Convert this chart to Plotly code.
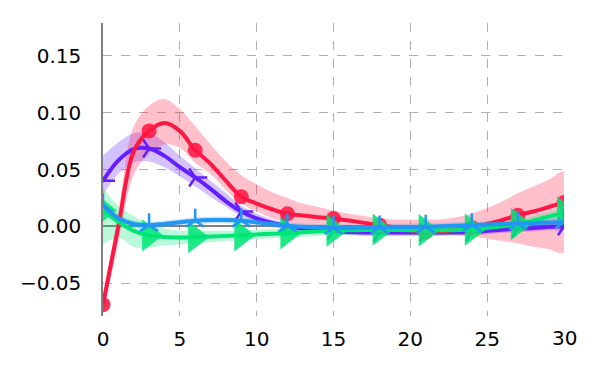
import plotly.graph_objects as go

# x positions (every integer step); markers drawn every 3rd point
x = list(range(31))

red_mean = [-0.069, 0.000, 0.066, 0.084, 0.091, 0.084, 0.067, 0.055, 0.040, 0.026,
            0.020, 0.015, 0.011, 0.0095, 0.008, 0.0068, 0.005, 0.003, 0.001, -0.001,
            -0.0035, -0.005, -0.0045, -0.003, -0.001, 0.002, 0.0055, 0.0097, 0.013, 0.017, 0.021]
red_upper = [-0.060, 0.012, 0.088, 0.106, 0.112, 0.103, 0.088, 0.072, 0.057, 0.045,
             0.037, 0.030, 0.025, 0.020, 0.017, 0.014, 0.011, 0.009, 0.007, 0.006,
             0.006, 0.006, 0.006, 0.008, 0.011, 0.016, 0.022, 0.029, 0.035, 0.041, 0.048]
red_lower = [-0.078, -0.014, 0.045, 0.064, 0.072, 0.069, 0.056, 0.046, 0.032, 0.020,
             0.013, 0.007, 0.003, 0.001, 0.000, -0.001, -0.001, -0.002, -0.004, -0.005,
             -0.006, -0.007, -0.007, -0.008, -0.009, -0.011, -0.013, -0.015, -0.018, -0.020, -0.023]

purple_mean = [0.040, 0.058, 0.068, 0.0685, 0.062, 0.052, 0.043, 0.033, 0.022, 0.013,
               0.007, 0.003, 0.000, -0.002, -0.003, -0.004, -0.005, -0.0055, -0.0055, -0.0055,
               -0.0055, -0.0055, -0.0055, -0.0052, -0.005, -0.004, -0.003, -0.002, -0.0015, -0.0005, 0.000]
purple_upper = [0.062, 0.074, 0.082, 0.082, 0.074, 0.062, 0.051, 0.040, 0.029, 0.018,
                0.011, 0.006, 0.003, 0.001, 0.000, -0.001, -0.002, -0.0025, -0.0025, -0.0025,
                -0.0025, -0.0025, -0.0025, -0.0022, -0.002, -0.001, 0.000, 0.001, 0.0015, 0.0025, 0.003]
purple_lower = [0.028, 0.046, 0.056, 0.057, 0.052, 0.044, 0.035, 0.026, 0.017, 0.009,
                0.003, 0.000, -0.003, -0.005, -0.006, -0.007, -0.008, -0.0085, -0.0085, -0.0085,
                -0.0085, -0.0085, -0.0085, -0.0082, -0.008, -0.007, -0.006, -0.005, -0.0045, -0.0035, -0.003]

blue_mean = [0.0185, 0.007, 0.002, 0.001, 0.002, 0.0035, 0.0048, 0.0055, 0.0055, 0.005,
             0.0035, 0.002, 0.0005, -0.0005, -0.001, -0.0015, -0.0015, -0.0012, -0.001, -0.0008,
             -0.0006, -0.0005, 0.000, 0.0005, 0.001, 0.0015, 0.002, 0.0025, 0.003, 0.0033, 0.0035]
blue_upper = [0.025, 0.011, 0.005, 0.004, 0.005, 0.0065, 0.008, 0.0085, 0.0085, 0.008,
              0.0065, 0.005, 0.0035, 0.0025, 0.002, 0.0015, 0.0015, 0.0018, 0.002, 0.0022,
              0.0024, 0.0025, 0.003, 0.0035, 0.004, 0.0045, 0.005, 0.0055, 0.006, 0.0063, 0.0065]
blue_lower = [0.012, 0.003, -0.001, -0.002, -0.001, 0.0005, 0.0018, 0.0025, 0.0025, 0.002,
              0.0005, -0.001, -0.0025, -0.0035, -0.004, -0.0045, -0.0045, -0.0042, -0.004, -0.0038,
              -0.0036, -0.0035, -0.003, -0.0025, -0.002, -0.0015, -0.001, -0.0005, 0.000, 0.0003, 0.0005]

green_mean = [0.014, 0.004, -0.004, -0.008, -0.0095, -0.0098, -0.0095, -0.009, -0.0085, -0.008,
              -0.0072, -0.0065, -0.006, -0.0052, -0.0045, -0.0038, -0.0035, -0.0033, -0.003, -0.0032,
              -0.0034, -0.0035, -0.0035, -0.0034, -0.003, -0.0015, 0.000, 0.002, 0.005, 0.0085, 0.012]
green_upper = [0.034, 0.018, 0.009, 0.002, -0.002, -0.004, -0.004, -0.004, -0.004, -0.004,
               -0.003, -0.0025, -0.002, -0.0012, -0.0005, 0.0002, 0.0005, 0.0007, 0.001, 0.0008,
               0.0006, 0.0005, 0.0005, 0.0006, 0.001, 0.0025, 0.004, 0.006, 0.009, 0.0125, 0.016]
green_lower = [-0.016, -0.010, -0.018, -0.019, -0.017, -0.016, -0.015, -0.014, -0.013, -0.012,
               -0.0112, -0.0105, -0.010, -0.0092, -0.0085, -0.0078, -0.0075, -0.0073, -0.007, -0.0072,
               -0.0074, -0.0075, -0.0075, -0.0074, -0.007, -0.0055, -0.004, -0.002, 0.001, 0.0045, 0.008]

series = [
    # name, mean, upper, lower, color, band rgba, marker symbol, marker size
    ("purple", purple_mean, purple_upper, purple_lower, "#651fff", "rgba(101,31,255,0.28)", "y-right", 15),
    ("red", red_mean, red_upper, red_lower, "#ff1744", "rgba(255,23,68,0.27)", "circle", 15),
    ("green", green_mean, green_upper, green_lower, "#00e676", "rgba(0,230,118,0.27)", "triangle-right", 28),
    ("blue", blue_mean, blue_upper, blue_lower, "#2196f3", "rgba(33,150,243,0.25)", "y-up", 15),
]

fig = go.Figure()

for name, m, up, lo, col, band, sym, msize in series:
    fig.add_trace(go.Scatter(
        x=x + x[::-1], y=up + lo[::-1], fill="toself", fillcolor=band,
        line=dict(width=0, shape="spline"), mode="lines", hoverinfo="skip", showlegend=False))

for name, m, up, lo, col, band, sym, msize in series:
    fig.add_trace(go.Scatter(
        x=x, y=m, mode="lines", line=dict(color=col, width=4, shape="spline"),
        showlegend=False))
    if sym.startswith("y-"):
        mk = dict(symbol=sym, size=msize, color=col, line=dict(color=col, width=2.5))
    else:
        mk = dict(symbol=sym, size=msize, color=col, opacity=0.88, line=dict(width=0))
    fig.add_trace(go.Scatter(
        x=x[::3], y=m[::3], mode="markers", marker=mk, showlegend=False))

# page body adds an 8px offset, margins compensate for it
fig.update_layout(
    width=600, height=375,
    margin=dict(l=92, r=44, t=15, b=67),
    paper_bgcolor="white", plot_bgcolor="white",
    font=dict(family="DejaVu Sans", size=20, color="black"),
)
fig.update_xaxes(
    range=[0, 30], tickvals=[0, 5, 10, 15, 20, 25],
    ticktext=["0", "5", "10", "15", "20", "25"],
    showgrid=True, gridcolor="#b0b0b0", griddash="dash", gridwidth=1,
    zeroline=False, showline=False,
    ticks="outside", ticklen=5, tickcolor="rgba(0,0,0,0)",
)
# label for 30 without a gridline at the right edge
fig.add_annotation(x=30, y=0, xref="x", yref="paper", text="30", showarrow=False,
                   yanchor="top", yshift=-8, font=dict(size=20))
fig.update_yaxes(
    range=[-0.079, 0.179], tickvals=[-0.05, 0.0, 0.05, 0.10, 0.15], tickformat=".2f",
    showgrid=True, gridcolor="#b0b0b0", griddash="dash", gridwidth=1,
    zeroline=True, zerolinecolor="#808080", zerolinewidth=2,
    showline=True, linecolor="#808080", linewidth=1.5,
    ticks="outside", ticklen=16, tickcolor="rgba(0,0,0,0)",
)

fig.write_html("out.html")
